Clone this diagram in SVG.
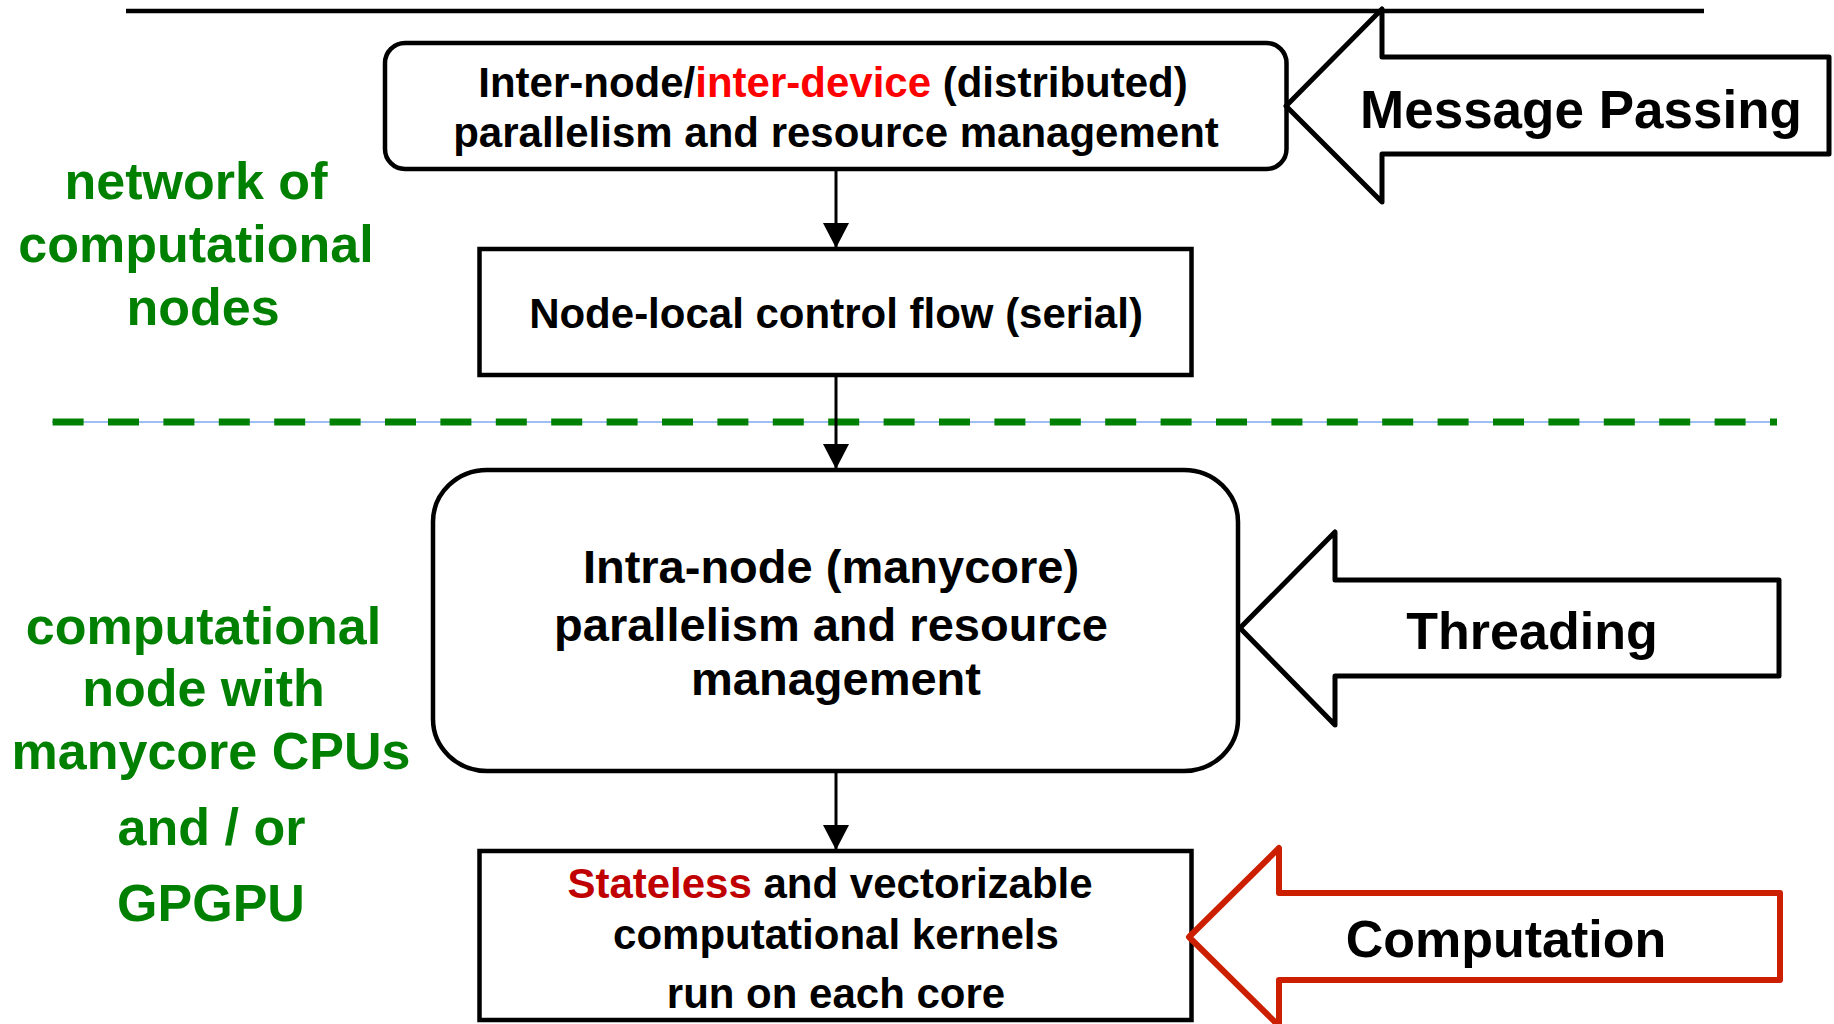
<svg xmlns="http://www.w3.org/2000/svg" width="1834" height="1024" viewBox="0 0 1834 1024">
<style>
  text { font-family: "Liberation Sans", Arial, sans-serif; font-weight: bold; text-anchor: middle; }
  .box { fill: #ffffff; stroke: #000000; stroke-width: 4.5; }
  .lbl { font-size: 42px; fill: #000000; }
  .big { font-size: 47px; fill: #000000; }
  .side { font-size: 52px; fill: #008000; }
  .arrowtxt { font-size: 52px; fill: #000000; }
  .fat { fill: #ffffff; stroke: #000000; stroke-width: 5; stroke-linejoin: round; }
  .conn { stroke: #000000; stroke-width: 3; fill: none; }
</style>
<defs>
  <marker id="ah" markerUnits="userSpaceOnUse" markerWidth="26" markerHeight="26" refX="25" refY="13" orient="auto">
    <path d="M0,0 L25,13 L0,26 Z" fill="#000000"/>
  </marker>
</defs>
<rect width="1834" height="1024" fill="#ffffff"/>

<line x1="126" y1="11" x2="1704" y2="11" stroke="#000000" stroke-width="4.5"/>

<g id="divider">
  <line x1="52" y1="422" x2="1777" y2="422" stroke="#80a8f0" stroke-width="1.4"/>
  <line x1="52.6" y1="422" x2="1777" y2="422" stroke="#008000" stroke-width="7" stroke-dasharray="31 24.4"/>
</g>

<g id="connectors">
  <line class="conn" x1="836" y1="171" x2="836" y2="248" marker-end="url(#ah)"/>
  <line class="conn" x1="836" y1="377" x2="836" y2="469" marker-end="url(#ah)"/>
  <line class="conn" x1="836" y1="773" x2="836" y2="850" marker-end="url(#ah)"/>
</g>

<g id="node-internode">
  <rect class="box" x="385" y="43" width="901.5" height="126" rx="20" ry="20"/>
  <text class="lbl" x="833" y="97">Inter-node/<tspan fill="#ff0000">inter-device</tspan> (distributed)</text>
  <text class="lbl" x="836" y="147">parallelism and resource management</text>
</g>

<g id="node-local">
  <rect class="box" x="479.5" y="249" width="712" height="126"/>
  <text class="lbl" x="836" y="328">Node-local control flow (serial)</text>
</g>

<g id="node-intranode">
  <rect class="box" x="433" y="470" width="805" height="301" rx="54" ry="52"/>
  <text class="big" x="831" y="583">Intra-node (manycore)</text>
  <text class="big" x="831" y="641">parallelism and resource</text>
  <text class="big" x="836" y="695">management</text>
</g>

<g id="node-kernels">
  <rect class="box" x="479.5" y="851" width="712" height="169"/>
  <text class="lbl" x="830" y="898"><tspan fill="#c00000">Stateless</tspan> and vectorizable</text>
  <text class="lbl" x="836" y="949">computational kernels</text>
  <text class="lbl" x="836" y="1008">run on each core</text>
</g>

<g id="arrow-message">
  <path class="fat" d="M1286,106 L1382,9 L1382,57 L1829,57 L1829,154 L1382,154 L1382,202 Z"/>
  <text class="arrowtxt" x="1581" y="128" style="font-size:53px">Message Passing</text>
</g>

<g id="arrow-threading">
  <path class="fat" d="M1240,628 L1335,532 L1335,580 L1779,580 L1779,676 L1335,676 L1335,725 Z"/>
  <text class="arrowtxt" x="1532" y="649">Threading</text>
</g>

<g id="arrow-computation">
  <path class="fat" style="stroke:#cc1f00;stroke-width:6" d="M1189,937 L1279,848 L1279,893 L1780,893 L1780,980 L1279,980 L1279,1026 Z"/>
  <text class="arrowtxt" x="1506" y="957">Computation</text>
</g>

<g id="label-network">
  <text class="side" x="196" y="199">network of</text>
  <text class="side" x="196" y="262">computational</text>
  <text class="side" x="203" y="325">nodes</text>
</g>

<g id="label-manycore">
  <text class="side" x="203.5" y="644">computational</text>
  <text class="side" x="203.5" y="706">node with</text>
  <text class="side" x="211" y="769">manycore CPUs</text>
  <text class="side" x="211.5" y="845">and / or</text>
  <text class="side" x="211" y="921">GPGPU</text>
</g>
</svg>
